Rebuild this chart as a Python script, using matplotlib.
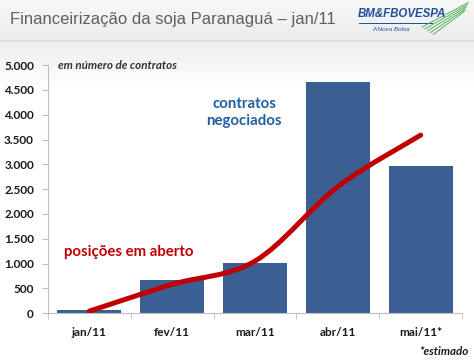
import numpy as np
import matplotlib.pyplot as plt
from matplotlib.path import Path
from matplotlib.patches import PathPatch

# Data
months = ['jan/11', 'fev/11', 'mar/11', 'abr/11', 'mai/11*']
contratos = [70, 665, 1010, 4660, 2970]
posicoes = [40, 580, 1050, 2550, 3590]
yticks = [0, 500, 1000, 1500, 2000, 2500, 3000, 3500, 4000, 4500, 5000]
ytick_labels = ['0', '500', '1.000', '1.500', '2.000', '2.500', '3.000',
                '3.500', '4.000', '4.500', '5.000']

bar_color = '#3b5f92'
line_color = '#c00000'

fig = plt.figure(figsize=(4.74, 3.62), dpi=100)

# slide background (header band + soft fade)
bg = fig.add_axes([0, 0, 1, 1])
h = 362
col = np.ones(h)
for i in range(h):
    if i < 40:
        col[i] = 0.97 - 0.05 * i / 40
    elif i < 42:
        col[i] = 0.87
    elif i < 90:
        col[i] = 0.93 + 0.07 * (i - 42) / 48
    else:
        col[i] = 1.0
grad = np.repeat(col[:, None], 10, axis=1)
bg.imshow(grad, cmap='gray', vmin=0, vmax=1, aspect='auto', extent=[0, 1, 0, 1])
bg.set_xlim(0, 1)
bg.set_ylim(0, 1)
bg.set_axis_off()

fig.text(0.021, 0.945, 'Financeirização da soja Paranaguá – jan/11',
         family='Liberation Sans', fontsize=12, color='#5f5f5f', va='center')

# logo
fig.text(0.755, 0.962, 'BM&FBOVESPA', family='Liberation Sans', fontsize=8.3,
         fontweight='bold', style='italic', color='#1f4e99', va='center')
bg.plot([0.757, 0.912], [0.937, 0.937], color='#1f4e99', lw=0.7)
fig.text(0.825, 0.918, 'A Nova Bolsa', family='Liberation Sans', fontsize=4.5,
         style='italic', color='#1f4e99', va='center', ha='center')
for k in range(5):
    bg.plot([0.89 + k * 0.006, 0.988 - k * 0.002],
            [0.925 - k * 0.005, 0.993 - k * 0.006],
            color='#3aa84a', lw=0.6)

ax = fig.add_axes([0.101, 0.135, 0.874, 0.685])
x = np.arange(len(months))
ax.bar(x, contratos, width=0.77, color=bar_color, zorder=2)

# smoothed line (Bezier through the points, like Excel's smoothing)
pts = np.column_stack([x, posicoes]).astype(float)
ext = np.vstack([pts[0], pts, pts[-1]])
verts = [tuple(pts[0])]
codes = [Path.MOVETO]
for i in range(len(pts) - 1):
    p0, p1, p2, p3 = ext[i], ext[i + 1], ext[i + 2], ext[i + 3]
    c1 = p1 + (p2 - p0) / 6
    c2 = p2 - (p3 - p1) / 6
    verts += [tuple(c1), tuple(c2), tuple(p2)]
    codes += [Path.CURVE4] * 3
ax.add_patch(PathPatch(Path(verts, codes), fill=False, edgecolor=line_color,
                       lw=3.6, capstyle='round', zorder=3))

ax.set_xlim(-0.5, len(months) - 0.5)
ax.set_ylim(0, 5000)
ax.set_yticks(yticks)
ax.set_yticklabels(ytick_labels)
ax.set_xticks(x)
ax.set_xticklabels(months)
ax.set_xticks(np.arange(len(months) + 1) - 0.5, minor=True)
ax.tick_params(axis='x', which='major', length=0, pad=10)
ax.tick_params(axis='x', which='minor', length=4, color='#bfbfbf')
ax.tick_params(axis='y', length=4, color='#bfbfbf', pad=6)
for lab in ax.get_xticklabels() + ax.get_yticklabels():
    lab.set_family('Lato')
    lab.set_fontweight('bold')
    lab.set_fontsize(8.5)
    lab.set_color('#1a1a1a')

for s in ['top', 'right']:
    ax.spines[s].set_visible(False)
ax.spines['left'].set_color('#bfbfbf')
ax.spines['bottom'].set_color('#bfbfbf')
ax.patch.set_alpha(0)

ax.text(0.025, 1.0, 'em número de contratos', transform=ax.transAxes,
        family='Lato', fontsize=8.4, fontweight='bold', style='italic',
        color='#333333', va='center')
ax.text(1.87, 4050, 'contratos\nnegociados', family='Lato', fontsize=10.8,
        fontweight='bold', color='#1f5fa3', ha='center', va='center',
        linespacing=1.25)
ax.text(-0.3, 1230, 'posições em aberto', family='Lato', fontsize=10.8,
        fontweight='bold', color=line_color, va='center')
fig.text(0.988, 0.03, '*estimado', family='Lato', fontsize=8.3,
         fontweight='bold', style='italic', color='#1a1a1a', ha='right',
         va='center')

plt.savefig('out.png', dpi=100)
plt.close()
